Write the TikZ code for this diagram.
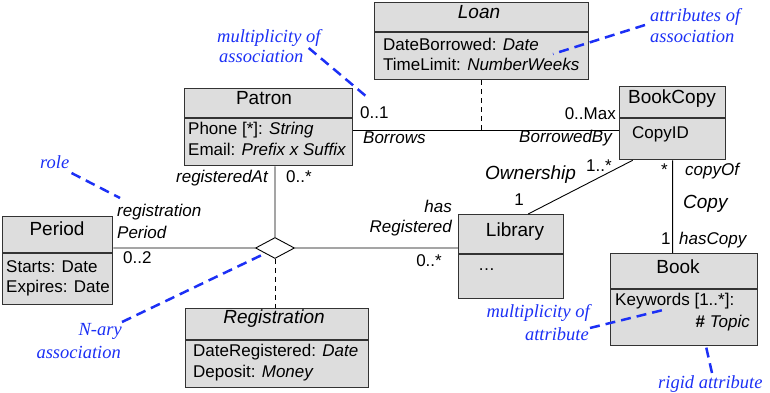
\documentclass[tikz,border=0pt]{standalone}
\usepackage{fontspec}
\setmainfont{Liberation Sans}
\newfontfamily\notefont{Liberation Serif}
\usetikzlibrary{positioning}
\usetikzlibrary{shapes.geometric}

\definecolor{boxfill}{RGB}{221,221,221}
\definecolor{boxline}{RGB}{51,51,51}
\definecolor{noteblue}{RGB}{28,48,245}

\begin{document}
\begin{tikzpicture}[
		x=1pt,y=-1pt,
		cls/.style={draw=boxline,fill=boxfill,line width=1.3pt,inner sep=0,anchor=north west},
		sep/.style={draw=boxline,line width=1.1pt},
		ttl/.style={font=\fontsize{19}{21}\selectfont,inner sep=0,anchor=base},
		ittl/.style={ttl,font=\fontsize{19}{21}\selectfont\itshape},
		txt/.style={font=\fontsize{17}{19}\selectfont,inner sep=0,anchor=base west},
		rtxt/.style={txt,anchor=base east},
		itxt/.style={txt,font=\fontsize{17}{19}\selectfont\itshape},
		ritxt/.style={itxt,anchor=base east},
		note/.style={font=\notefont\fontsize{18.5}{21}\selectfont\itshape,text=noteblue,inner sep=0,anchor=base west},
		rnote/.style={note,anchor=base east},
		link/.style={draw=black,line width=0.9pt},
		pointer/.style={draw=noteblue,line width=2.5pt,dash pattern=on 10pt off 6pt}
	]
		\useasboundingbox (0,0) rectangle (770,393);

		% classes
		\path
			(374,2) node[cls,minimum width=214,minimum height=77](Loan){}
			(184,88) node[cls,minimum width=168,minimum height=77](Patron){}
			(619,86) node[cls,minimum width=106,minimum height=73](BookCopy){}
			(2,216) node[cls,minimum width=110,minimum height=88](Period){}
			(458,214) node[cls,minimum width=105,minimum height=84](Library){}
			(185,308) node[cls,minimum width=183,minimum height=79](Registration){}
			(610,253) node[cls,minimum width=147,minimum height=92](Book){}
		;
		\draw[sep]
			(Loan.west |- 0,32) -- (Loan.east |- 0,32)
			(Patron.west |- 0,118) -- (Patron.east |- 0,118)
			(BookCopy.west |- 0,118) -- (BookCopy.east |- 0,118)
			(Period.west |- 0,253) -- (Period.east |- 0,253)
			(Library.west |- 0,254) -- (Library.east |- 0,254)
			(Registration.west |- 0,340) -- (Registration.east |- 0,340)
			(Book.west |- 0,289) -- (Book.east |- 0,289)
		;

		% class texts
		\path
			(479,19) node[ittl](LoanName){Loan}
			(383,51) node[txt](LoanA){DateBorrowed: \textit{Date}}
			(383,71) node[txt](LoanB){TimeLimit: \textit{NumberWeeks}}
			(264,105) node[ttl](PatronName){Patron}
			(188,135) node[txt](PatronA){Phone [*]: \textit{String}}
			(188,155) node[txt](PatronB){Email: \textit{Prefix x Suffix}}
			(672,104) node[ttl](BookCopyName){BookCopy}
			(632,138) node[txt](BookCopyA){CopyID}
			(57,235) node[ttl](PeriodName){Period}
			(6,272) node[txt](PeriodA){Starts: Date}
			(6,292) node[txt](PeriodB){Expires: Date}
			(515,236) node[ttl](LibraryName){Library}
			(478,270) node[txt](LibraryA){\ldots}
			(274,323) node[ittl](RegistrationName){Registration}
			(193,356) node[txt](RegistrationA){DateRegistered: \textit{Date}}
			(193,377) node[txt](RegistrationB){Deposit: \textit{Money}}
			(678,273) node[ttl](BookName){Book}
			(615,305) node[txt](BookA){Keywords [1..*]:}
			(750,327) node[rtxt](BookB){{\bfseries\#} \textit{Topic}}
		;

		% associations
		\coordinate (loanmid) at (Loan.south |- 0,130);
		\draw[link]
			(Patron.east |- loanmid) -- (BookCopy.west |- loanmid)
		;
		\draw[link,dash pattern=on 5pt off 4pt]
			(Loan.south) -- (loanmid)
		;
		\path
			(275,248) node[diamond,draw=black,fill=white,line width=0.9pt,minimum width=39,minimum height=21,inner sep=0](nary){}
		;
		\draw[link]
			(Patron.south -| nary) -- (nary.north)
			(nary.west -| Period.east) -- (nary.west)
			(nary.east) -- (nary.east -| Library.west)
			([xshift=17pt]Library.north) -- ([xshift=-40pt]BookCopy.south)
			(BookCopy.south) -- (BookCopy.south |- Book.north)
		;
		\draw[link,dash pattern=on 5pt off 4pt]
			(nary.south) -- (nary.south |- Registration.north)
		;

		% ends and names
		\path
			(360,118) node[txt](borrowsMult){0..1}
			(363,143) node[itxt](borrowsRole){Borrows}
			(616,119) node[rtxt](borrowedMult){0..Max}
			(612,142) node[ritxt](borrowedRole){BorrowedBy}
			(268,182) node[ritxt](regAtRole){registeredAt}
			(286,182) node[txt](regAtMult){0..*}
			(117,216) node[itxt](periodRoleA){registration}
			(117,238) node[itxt](periodRoleB){Period}
			(123,263) node[txt](periodMult){0..2}
			(452,212) node[ritxt](libRoleA){has}
			(452,232) node[ritxt](libRoleB){Registered}
			(442,266) node[rtxt](libMult){0..*}
			(485,179) node[ittl,anchor=base west](ownName){Ownership}
			(586,171) node[txt](ownMultA){1..*}
			(519,205) node[txt,anchor=base](ownMultB){1}
			(661,175) node[txt](copyMultA){*}
			(685,175) node[itxt](copyRoleA){copyOf}
			(683,208) node[ittl,anchor=base west](copyName){Copy}
			(661,244) node[txt](copyMultB){1}
			(679,244) node[itxt](copyRoleB){hasCopy}
		;

		% notes
		\path
			(217,43) node[note](multAssocA){multiplicity of}
			(219,63) node[note](multAssocB){association}
			(650,22) node[note](attrAssocA){attributes of}
			(650,43) node[note](attrAssocB){association}
			(40,168) node[note](roleNote){role}
			(122,335) node[rnote](naryA){N-ary}
			(121,358) node[rnote](naryB){association}
			(590,317) node[rnote](multAttrA){multiplicity of}
			(589,340) node[rnote](multAttrB){attribute}
			(658,388) node[note](rigidNote){rigid attribute}
		;
		\coordinate (borrowsEnd) at (367,97);
		\coordinate (loanEnd) at (553,54);
		\coordinate (roleEnd) at (120,198);
		\coordinate (keyEnd) at (663,310);
		\coordinate (topicEnd) at (705,342);
		\draw[pointer]
			([shift={(5,-15)}]multAssocB.base east) -- (borrowsEnd)
			([shift={(-5,3)}]attrAssocA.base west) -- (loanEnd)
			([shift={(2,5)}]roleNote.base east) -- (roleEnd)
			([shift={(0,-13)}]naryA.base east) -- (nary.south west)
			([shift={(1,-12)}]multAttrB.base east) -- (keyEnd)
			([shift={(54,-15)}]rigidNote.base west) -- (topicEnd)
		;
	\end{tikzpicture}
\end{document}
